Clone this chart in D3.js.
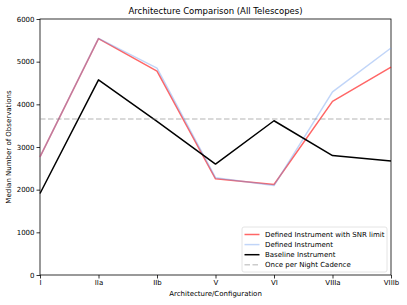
<!DOCTYPE html>
<html>
<head>
<meta charset="utf-8">
<script src="https://cdn.jsdelivr.net/npm/d3@7"></script>
<style>
  body { margin: 0; background: #fff; }
  svg { font-family: "DejaVu Sans", sans-serif; }
</style>
</head>
<body>
<svg class="chart"></svg>
<script>
const width = 407;
const height = 305;
const margin = {top: 19, right: 16, bottom: 30, left: 40};

// Data
const architectures = ['I', 'IIa', 'IIb', 'V', 'VI', 'VIIIa', 'VIIIb'];
const snrLimited = [2770, 5540, 4780, 2255, 2120, 4070, 4870];
const defined = [2770, 5545, 4850, 2280, 2095, 4290, 5320];
const baseline = [1910, 4575, 3600, 2600, 3615, 2800, 2670];
const oncePerNight = 3655;
const yTicks = [0, 1000, 2000, 3000, 4000, 5000, 6000];

const series = [
  {name: 'Defined Instrument with SNR limit', values: snrLimited, color: 'red', opacity: 0.6},
  {name: 'Defined Instrument', values: defined, color: '#6495ed', opacity: 0.4},
  {name: 'Baseline Instrument', values: baseline, color: 'black', opacity: 1}
];

const svg = d3.select('.chart')
    .attr('width', width)
    .attr('height', height);

const x = d3.scalePoint()
    .domain(architectures)
    .range([margin.left, width - margin.right]);

const y = d3.scaleLinear()
    .domain([0, 6000])
    .range([height - margin.bottom, margin.top]);

// Axes
const xAxis = svg.append('g')
    .attr('transform', `translate(0,${height - margin.bottom})`)
    .call(d3.axisBottom(x).tickSize(3.5).tickPadding(2));

const yAxis = svg.append('g')
    .attr('transform', `translate(${margin.left},0)`)
    .call(d3.axisLeft(y).tickValues(yTicks).tickFormat(d3.format('d')).tickSize(3.5).tickPadding(2));

[xAxis, yAxis].forEach(a => {
  a.selectAll('text').attr('font-size', 7).attr('fill', '#000').attr('font-family', 'DejaVu Sans');
  a.select('.domain').remove();
  a.selectAll('line').attr('stroke', '#000').attr('stroke-width', 0.8);
});

// Frame
svg.append('rect')
    .attr('x', margin.left)
    .attr('y', margin.top)
    .attr('width', width - margin.left - margin.right)
    .attr('height', height - margin.top - margin.bottom)
    .attr('fill', 'none')
    .attr('stroke', '#000')
    .attr('stroke-width', 0.8);

// Lines
const line = d3.line()
    .x((d, i) => x(architectures[i]))
    .y(d => y(d));

series.forEach(s => {
  svg.append('path')
      .datum(s.values)
      .attr('d', line)
      .attr('fill', 'none')
      .attr('stroke', s.color)
      .attr('stroke-opacity', s.opacity)
      .attr('stroke-width', 1.5)
      .attr('stroke-linejoin', 'round');
});

svg.append('line')
    .attr('x1', margin.left)
    .attr('x2', width - margin.right)
    .attr('y1', y(oncePerNight))
    .attr('y2', y(oncePerNight))
    .attr('stroke', 'gray')
    .attr('stroke-opacity', 0.4)
    .attr('stroke-width', 1.5)
    .attr('stroke-dasharray', '5.5,2.5');

// Title and labels
svg.append('text')
    .attr('x', (margin.left + width - margin.right) / 2)
    .attr('y', 14)
    .attr('text-anchor', 'middle')
    .attr('font-size', 8.5)
    .text('Architecture Comparison (All Telescopes)');

svg.append('text')
    .attr('x', (margin.left + width - margin.right) / 2)
    .attr('y', 296)
    .attr('text-anchor', 'middle')
    .attr('font-size', 7)
    .text('Architecture/Configuration');

svg.append('text')
    .attr('transform', `translate(11,${(margin.top + height - margin.bottom) / 2}) rotate(-90)`)
    .attr('text-anchor', 'middle')
    .attr('font-size', 7)
    .text('Median Number of Observations');

// Legend
const legendItems = [
  ...series,
  {name: 'Once per Night Cadence', color: 'gray', opacity: 0.4, dash: '5.5,2.5'}
];

const legend = svg.append('g').attr('transform', 'translate(242,227)');

legend.append('rect')
    .attr('width', 145)
    .attr('height', 45)
    .attr('rx', 2)
    .attr('fill', '#fff')
    .attr('fill-opacity', 0.8)
    .attr('stroke', '#ddd')
    .attr('stroke-width', 0.8);

legendItems.forEach((d, i) => {
  const yy = 7.5 + i * 10.1;
  legend.append('line')
      .attr('x1', 2.5)
      .attr('x2', 17.5)
      .attr('y1', yy)
      .attr('y2', yy)
      .attr('stroke', d.color)
      .attr('stroke-opacity', d.opacity)
      .attr('stroke-width', 1.5)
      .attr('stroke-dasharray', d.dash || null);
  legend.append('text')
      .attr('x', 23)
      .attr('y', yy + 2.5)
      .attr('font-size', 7)
      .text(d.name);
});
</script>
</body>
</html>
